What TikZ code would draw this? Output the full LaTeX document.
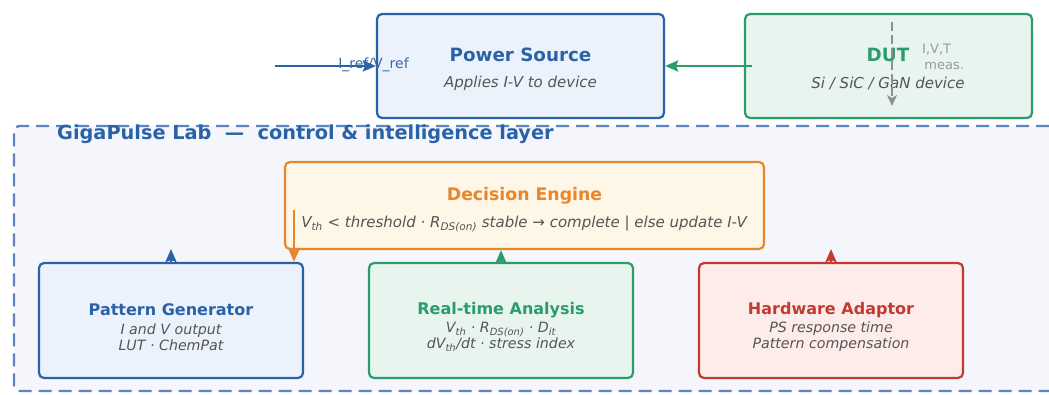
\documentclass[tikz,border=0pt]{standalone}
\usepackage{fontspec}
\setmainfont{DejaVu Sans}
\usetikzlibrary{arrows.meta}
\definecolor{gpblue}{HTML}{2A62A8}
\definecolor{gpbluefill}{HTML}{EBF2FB}
\definecolor{gpgreen}{HTML}{2A9D6A}
\definecolor{gpgreenfill}{HTML}{E8F5EE}
\definecolor{gporange}{HTML}{E8862E}
\definecolor{gporangefill}{HTML}{FEF6E6}
\definecolor{gpred}{HTML}{C23B32}
\definecolor{gpredfill}{HTML}{FDECEA}
\definecolor{gpgray}{HTML}{555555}
\definecolor{gplightgray}{HTML}{8E8E8E}
\definecolor{gplayer}{HTML}{5A85C0}
\definecolor{gplayerfill}{HTML}{F4F6FC}

\tikzset{
  gpbox/.style={draw, rounded corners=5pt, line width=2.2pt, inner sep=0pt},
  gptitle/.style={font=\bfseries\fontsize{16}{19}\selectfont},
  gpbigtitle/.style={font=\bfseries\fontsize{18.3}{21}\selectfont},
  gpsub/.style={font=\itshape\fontsize{14.2}{16}\selectfont, text=gpgray, align=center},
  gpbigsub/.style={gpsub, font=\itshape\fontsize{15}{17}\selectfont},
  gparrow/.style={line width=2.4pt, -{Stealth[length=13pt,width=11pt,inset=2pt]}}
}

\begin{document}
\begin{tikzpicture}[x=1pt, y=-1pt]
\useasboundingbox[fill=white] (0,0) rectangle (1049,394);

\node[gpbox, draw=gplayer, fill=gplayerfill, dash pattern=on 13pt off 7pt, line width=2.4pt, minimum width=1060, minimum height=265] (lab) at (544,258.5) {};
\node[anchor=west, inner sep=0pt, text=gpblue, font=\bfseries\fontsize{19.3}{22}\selectfont] (labtitle) at (57,134) {GigaPulse Lab \ — \ control \& intelligence layer};

\node[gpbox, draw=gpblue, fill=gpbluefill, minimum width=287, minimum height=104] (ps) at (520.5,66) {};
\node[gpbigtitle, text=gpblue] (pstitle) at (520.5,55) {Power Source};
\node[gpbigsub] (pssub) at (520.5,83) {Applies I-V to device};

\node[gpbox, draw=gpgreen, fill=gpgreenfill, minimum width=287, minimum height=104] (dut) at (888.5,66) {};
\node[gpbigtitle, text=gpgreen] (duttitle) at (888,55) {DUT};
\node[gpbigsub] (dutsub) at (888,83) {Si / SiC / GaN device};
\coordinate (meastop) at (892,22);
\coordinate (measbot) at (892,106);
\draw[gparrow, draw=gplightgray, line width=1.8pt, dash pattern=on 9pt off 4pt, -{Stealth[length=11pt,width=10pt,inset=3pt]}] (meastop) -- (measbot);
\node[anchor=north west, inner sep=0pt, align=left, text=gplightgray!90!white, font=\fontsize{13}{16}\selectfont] (meas) at (922,44) {I,V,T\\\,meas.};

\coordinate (refin) at (275,66);
\draw[gparrow, draw=gpblue] (refin) -- (ps.west);
\node[text=gpblue!80!gray, font=\fontsize{14}{16}\selectfont] (reflabel) at (373.5,65) {I\_ref/V\_ref};
\coordinate (dutout) at (752,66);
\draw[gparrow, draw=gpgreen] (dutout) -- (ps.east);

\node[gpbox, draw=gporange, fill=gporangefill, minimum width=479, minimum height=87] (de) at (524.5,205.5) {};
\node[gptitle, font=\bfseries\fontsize{17.3}{20}\selectfont, text=gporange] (detitle) at (524.5,196) {Decision Engine};
\node[gpbigsub] (desub) at (524,224) {V\textsubscript{th} < threshold · R\textsubscript{DS(on)} stable → complete | else update I-V};

\node[gpbox, draw=gpblue, fill=gpbluefill, minimum width=264, minimum height=115] (pg) at (171,320.5) {};
\node[gptitle, text=gpblue] (pgtitle) at (171,310) {Pattern Generator};
\node[gpsub] (pgsub) at (171,337) {I and V output\\LUT · ChemPat};

\node[gpbox, draw=gpgreen, fill=gpgreenfill, minimum width=264, minimum height=115] (ra) at (501,320.5) {};
\node[gptitle, text=gpgreen] (ratitle) at (501,310) {Real-time Analysis};
\node[gpsub] (rasub) at (501,337) {V\textsubscript{th} · R\textsubscript{DS(on)} · D\textsubscript{it}\\dV\textsubscript{th}/dt · stress index};

\node[gpbox, draw=gpred, fill=gpredfill, minimum width=264, minimum height=115] (ha) at (831,320.5) {};
\node[gptitle, text=gpred] (hatitle) at (831,310) {Hardware Adaptor};
\node[gpsub] (hasub) at (831,337) {PS response time\\Pattern compensation};

\coordinate (decout) at (294,210);
\draw[gparrow, draw=gporange, line width=2.8pt] (decout) -- (decout |- pg.north);
\coordinate (pgup) at (171,249);
\draw[gparrow, draw=gpblue] (pg.north) -- (pgup);
\draw[gparrow, draw=gpgreen] (ra.north) -- (ra.north |- de.south);
\coordinate (haup) at (831,249);
\draw[gparrow, draw=gpred] (ha.north) -- (haup);
\end{tikzpicture}
\end{document}
